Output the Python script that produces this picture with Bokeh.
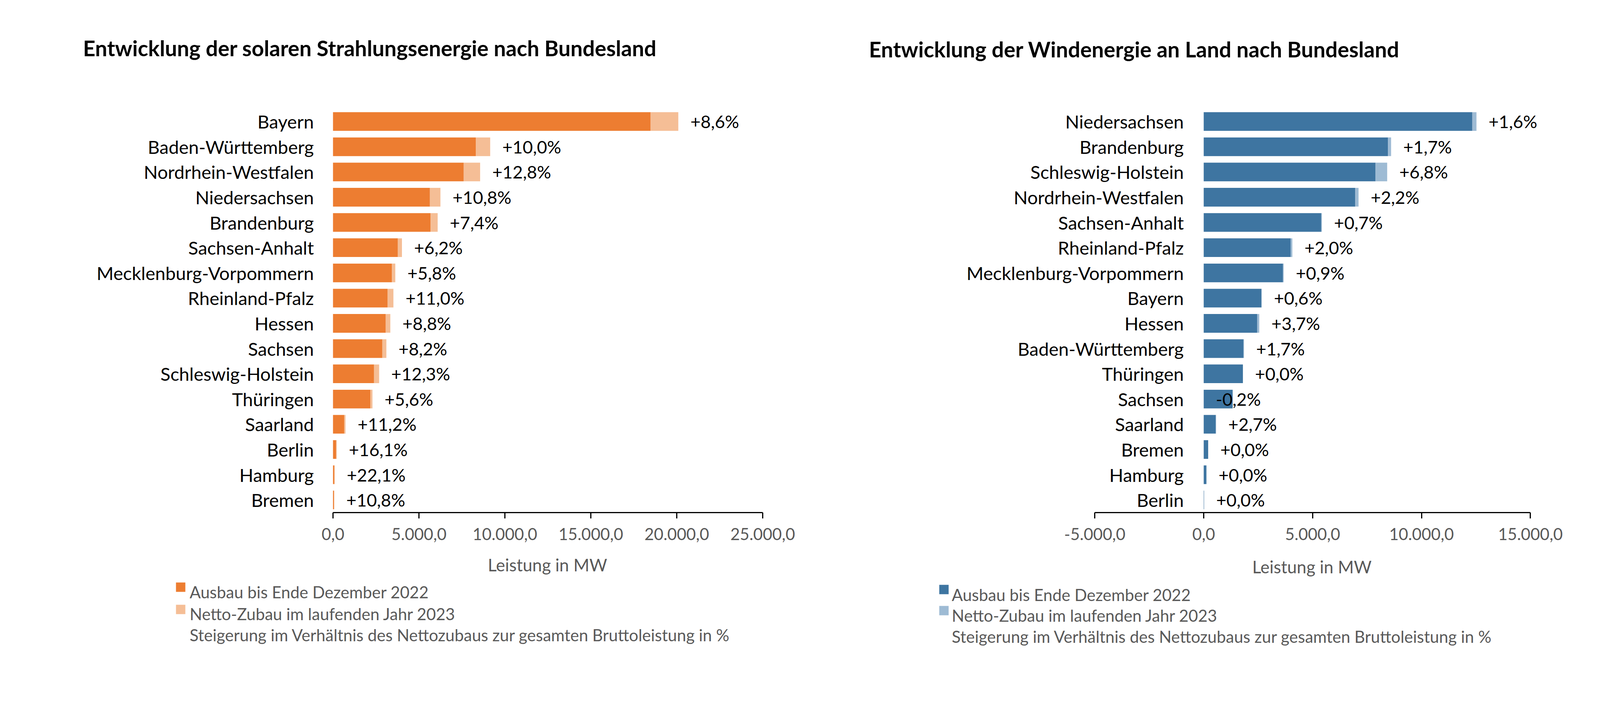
from bokeh.plotting import figure
from bokeh.models import Range1d, FixedTicker, ColumnDataSource
from bokeh.layouts import row, column
from bokeh.embed import file_html
from bokeh.resources import INLINE
from bokeh.core.properties import value

# ---------------- data ----------------
solar_title = "Entwicklung der solaren Strahlungsenergie nach Bundesland"
solar_states = ["Bayern", "Baden-Württemberg", "Nordrhein-Westfalen", "Niedersachsen",
                "Brandenburg", "Sachsen-Anhalt", "Mecklenburg-Vorpommern", "Rheinland-Pfalz",
                "Hessen", "Sachsen", "Schleswig-Holstein", "Thüringen", "Saarland",
                "Berlin", "Hamburg", "Bremen"]
solar_base = [18480, 8310, 7600, 5640, 5680, 3775, 3430, 3170, 3070, 2870, 2390, 2175, 655, 185, 78, 62]
solar_add = [1610, 835, 960, 610, 410, 236, 195, 345, 265, 236, 294, 120, 73, 30, 17, 7]
solar_pct = ["+8,6%", "+10,0%", "+12,8%", "+10,8%", "+7,4%", "+6,2%", "+5,8%", "+11,0%",
             "+8,8%", "+8,2%", "+12,3%", "+5,6%", "+11,2%", "+16,1%", "+22,1%", "+10,8%"]
solar_ticks = [0, 5000, 10000, 15000, 20000, 25000]
solar_tick_labels = ["0,0", "5.000,0", "10.000,0", "15.000,0", "20.000,0", "25.000,0"]

wind_title = "Entwicklung der Windenergie an Land nach Bundesland"
wind_states = ["Niedersachsen", "Brandenburg", "Schleswig-Holstein", "Nordrhein-Westfalen",
               "Sachsen-Anhalt", "Rheinland-Pfalz", "Mecklenburg-Vorpommern", "Bayern",
               "Hessen", "Baden-Württemberg", "Thüringen", "Sachsen", "Saarland",
               "Bremen", "Hamburg", "Berlin"]
wind_base = [12330, 8460, 7890, 6960, 5390, 3990, 3640, 2650, 2460, 1820, 1800, 1330, 555, 205, 125, 17]
wind_add = [195, 145, 535, 150, 38, 80, 33, 16, 91, 31, 0, -3, 15, 0, 0, 0]
wind_pct = ["+1,6%", "+1,7%", "+6,8%", "+2,2%", "+0,7%", "+2,0%", "+0,9%", "+0,6%",
            "+3,7%", "+1,7%", "+0,0%", "-0,2%", "+2,7%", "+0,0%", "+0,0%", "+0,0%"]
wind_ticks = [-5000, 0, 5000, 10000, 15000]
wind_tick_labels = ["-5.000,0", "0,0", "5.000,0", "10.000,0", "15.000,0"]

legend_labels = ["Ausbau bis Ende Dezember 2022", "Netto-Zubau im laufenden Jahr 2023",
                 "Steigerung im Verhältnis des Nettozubaus zur gesamten Bruttoleistung in %"]
axis_title = "Leistung in MW"

# ---------------- styling / layout ----------------
FONT = "Lato"
GRAY = "#595959"
FIG_W = 2135
MAIN_H = 1412
LEG_H = 390
FRAME_H = 1312          # frame bottom (x axis line) inside the main figure
ROW_PX = 64.6


def make_chart(title, states, base, add, pct, ticks, tick_labels, bounds, dark, light, lay):
    n = len(states)
    px_per_mw = lay["axis_px"] / (bounds[1] - bounds[0])
    x_start = -lay["zero_px"] / px_per_mw
    x_end = (FIG_W - lay["zero_px"]) / px_per_mw
    y_start = -0.5
    y_end = y_start + FRAME_H / ROW_PX

    p = figure(width=FIG_W, height=MAIN_H, output_backend="svg", toolbar_location=None,
               title=None,
               x_range=Range1d(x_start, x_end), y_range=Range1d(y_start, y_end),
               y_axis_location=None,
               min_border_left=0, min_border_right=0, min_border_top=0,
               min_border_bottom=MAIN_H - FRAME_H)
    p.outline_line_color = None
    p.xgrid.visible = False
    p.ygrid.visible = False
    p.background_fill_color = "white"
    p.border_fill_color = "white"

    ypos = [n - 1 - i for i in range(n)]
    d_left = [0 for b in base]
    l_left = [b if a >= 0 else a for b, a in zip(base, add)]
    l_right = [b + a if a >= 0 else 0 for b, a in zip(base, add)]
    lab_x = [b + a if a >= 0 else 0 for b, a in zip(base, add)]
    src = ColumnDataSource(dict(y=ypos, state=states, dl=d_left, dr=list(base), ll=l_left, lr=l_right,
                                lx=lab_x, pct=pct, zero=d_left))
    p.hbar(y="y", left="dl", right="dr", height=0.74, source=src, fill_color=dark, line_color=None)
    p.hbar(y="y", left="ll", right="lr", height=0.74, source=src, fill_color=light, line_color=None)
    # value labels
    p.text(x="lx", y="y", text="pct", source=src, x_offset=31, text_align="left",
           text_baseline="middle", text_font=value(FONT), text_font_size="45px", text_color="black")
    # category labels
    p.text(x="zero", y="y", text="state", source=src, x_offset=-lay["cs"], text_align="right",
           text_baseline="middle", text_font=value(FONT), text_font_size="47px", text_color="black")
    # title
    p.text(x=[0], y=[y_end], text=[title], x_offset=lay["tx"], y_offset=lay["ty"],
           text_align="left", text_baseline="alphabetic", text_font=value(FONT),
           text_font_size="55px", text_font_style="bold", text_color="black")

    # x axis
    xa = p.xaxis[0]
    xa.bounds = bounds
    xa.ticker = FixedTicker(ticks=ticks)
    xa.major_label_overrides = {t: s for t, s in zip(ticks, tick_labels)}
    xa.axis_line_width = 3
    xa.axis_line_color = "black"
    xa.major_tick_line_width = 3
    xa.major_tick_line_color = "black"
    xa.major_tick_out = 15
    xa.major_tick_in = 0
    xa.minor_tick_line_color = None
    xa.major_label_text_font = FONT
    xa.major_label_text_font_size = "42px"
    xa.major_label_text_color = GRAY
    xa.major_label_standoff = 24

    # legend / axis title figure (pixel coordinates, y downward)
    q = figure(width=FIG_W, height=LEG_H, output_backend="svg", toolbar_location=None,
               title=None,
               x_range=Range1d(0, FIG_W), y_range=Range1d(LEG_H, 0),
               x_axis_location=None, y_axis_location=None,
               min_border_left=0, min_border_right=0, min_border_top=0, min_border_bottom=0)
    q.outline_line_color = None
    q.xgrid.visible = False
    q.ygrid.visible = False
    q.background_fill_color = "white"
    q.border_fill_color = "white"
    q.text(x=[lay["ax"]], y=[lay["ay"]], text=[axis_title], text_align="center",
           text_baseline="alphabetic", text_font=value(FONT), text_font_size="44px", text_color=GRAY)
    sq = lay["sq"]
    q.quad(left=[sq[0], sq[0]], right=[sq[0] + 24, sq[0] + 24],
           top=[sq[1], sq[2]], bottom=[sq[1] + 24, sq[2] + 24],
           fill_color=[dark, light], line_color=None)
    q.text(x=[lay["lx"]] * 3, y=lay["ly"], text=legend_labels, text_align="left",
           text_baseline="alphabetic", text_font=value(FONT), text_font_size="42px", text_color=GRAY)
    return column(p, q, spacing=0)


lay_solar = dict(zero_px=852, axis_px=1100, cs=49, tx=-640, ty=122,
                 ax=1401, ay=33, sq=(450, 79, 136), lx=485, ly=[103, 159, 213])
lay_wind = dict(zero_px=946, axis_px=1115, cs=51, tx=-857, ty=125,
                ax=1223, ay=38, sq=(269, 85, 139), lx=301, ly=[110, 163, 217])

c1 = make_chart(solar_title, solar_states, solar_base, solar_add, solar_pct, solar_ticks,
                solar_tick_labels, (0, 25000), "#ED7D31", "#F5BE96", lay_solar)
c2 = make_chart(wind_title, wind_states, wind_base, wind_add, wind_pct, wind_ticks,
                wind_tick_labels, (-5000, 15000), "#3E75A1", "#9EBBD4", lay_wind)

layout = row(c1, c2, spacing=0)
open("out.html", "w").write(file_html(layout, INLINE))
